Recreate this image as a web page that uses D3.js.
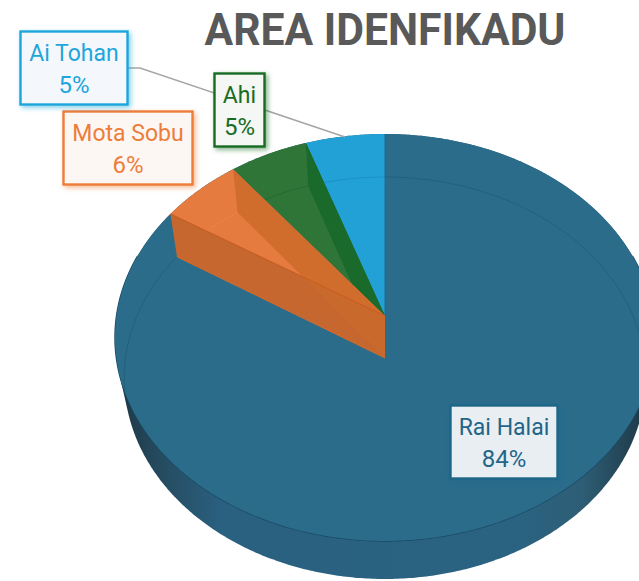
<!DOCTYPE html>
<html><head><meta charset="utf-8">
<script src="https://cdn.jsdelivr.net/npm/d3@7"></script>
<style>html,body{margin:0;padding:0;background:#fff}svg{display:block}</style>
</head><body><div id="c"></div>
<script>
const titleText = "AREA IDENFIKADU";
const categories = ["Rai Halai", "Mota Sobu", "Ahi", "Ai Tohan"];
const values = [84, 5.5, 5.25, 5.25];
const topColors = ["#2b6c8b", "#e67b40", "#2f7538", "#22a1d6"];
const wallColors = ["#2b6c8b", "#c4682f", "#196a2b", "#22a1d6"];
const rimColors = ["#24607f", "#ee8443", "#256a30", "#1b92c6"];
const borderColors = ["#1f6688", "#ed7d3a", "#196b24", "#1fa5dc"];
const boxFills = ["#e9eef3", "#fdf7f3", "#f4f7f4", "#f4f8fc"];
const textColors = ["#1f6688", "#ed7d3a", "#196b24", "#1fa5dc"];

const W = 639, H = 581;
const fontFamily = "Roboto, sans-serif";
const svg = d3.select("#c").append("svg").attr("width", W).attr("height", H);
const defs = svg.append("defs");

// projection: pie plane seen in perspective; z=0 top face, z=1 bottom face
const yCentre = d3.scaleLinear([0, 1], [316, 358]);
const xAmp = d3.scaleLinear([0, 1], [268.5, 259.5]);
const yAmp = d3.scaleLinear([0, 1], [201.2, 199]);
const persp = d3.scaleLinear([0, 1], [0.1056, 0.0995]);
const cx = 385;
function project(theta, z, r = 1) {
  const u = Math.sin(theta) * r, v = -Math.cos(theta) * r;
  const w = 1 - persp(z) * v;
  return [cx + xAmp(z) * u / w, yCentre(z) + yAmp(z) * v / w];
}
const line = d3.line();
const arcPts = (a, b, z) => {
  const n = Math.max(2, Math.ceil(Math.abs(b - a) / 0.01));
  return d3.range(n + 1).map(i => project(a + (b - a) * i / n, z));
};
const full = 2 * Math.PI;
const pie = d3.pie().sort(null).value(d => d)(values);

// gradient on the outside wall
const grad = defs.append("linearGradient").attr("id", "side")
  .attr("gradientUnits", "userSpaceOnUse").attr("x1", 115).attr("x2", 650).attr("y1", 0).attr("y2", 0);
[[0, "#1d3644"], [0.08, "#254a5e"], [0.2, "#2a6080"], [0.75, "#2a6381"], [0.87, "#2e5e76"], [1, "#1d3643"]]
  .forEach(([o, c]) => grad.append("stop").attr("offset", o).attr("stop-color", c));

defs.append("clipPath").attr("id", "topClip").append("path")
  .attr("d", line(arcPts(0, full, 0)) + "Z");

borderColors.forEach((c, i) => {
  defs.append("filter").attr("id", "sh" + i)
    .attr("x", "-20%").attr("y", "-20%").attr("width", "150%").attr("height", "150%")
    .append("feDropShadow").attr("dx", 2).attr("dy", 2).attr("stdDeviation", 2.5)
    .attr("flood-color", c).attr("flood-opacity", 0.55);
});

// outside wall silhouette
const hull = d3.polygonHull(arcPts(0, full, 0).concat(arcPts(0, full, 1)));
svg.append("path").attr("d", line(hull) + "Z").attr("fill", "url(#side)");

// rim of the top face in front
svg.append("path").attr("d", line(arcPts(Math.PI * 0.4, Math.PI * 1.6, 0)))
  .attr("fill", "none").attr("stroke", "#1a4a63").attr("stroke-width", 1.4);

const sliceD = p => line([[cx, yCentre(0)], ...arcPts(p.startAngle, p.endAngle, 0)]) + "Z";
const wallD = (angle) => line([project(angle, 0), [cx, yCentre(0)], [cx, yCentre(1)], project(angle, 1)]) + "Z";

svg.append("path").attr("d", sliceD(pie[0])).attr("fill", topColors[0]);
svg.append("path").attr("d", sliceD(pie[3])).attr("fill", topColors[3]);
svg.append("path").attr("d", sliceD(pie[2])).attr("fill", topColors[2]);

// far rim seen through the faces
pie.forEach((p, i) => {
  if (i === 1) return;
  svg.append("path").attr("d", line(arcPts(p.startAngle, p.endAngle, 1)))
    .attr("fill", "none").attr("stroke", rimColors[i]).attr("stroke-width", 1)
    .attr("clip-path", "url(#topClip)");
});
svg.append("path").attr("d", wallD(pie[2].endAngle)).attr("fill", wallColors[2])
  .attr("clip-path", "url(#topClip)");
svg.append("path").attr("d", line([project(0, 0), [cx, yCentre(0)]]))
  .attr("stroke", "#1f6a8f").attr("stroke-width", 1).attr("fill", "none");

// orange slice
defs.append("clipPath").attr("id", "frontWallClip").append("path").attr("d", wallD(pie[1].startAngle));
svg.append("path").attr("d", sliceD(pie[1])).attr("fill", topColors[1]);
svg.append("path").attr("d", wallD(pie[1].endAngle)).attr("fill", "#d06c2c");
svg.append("path").attr("d", line(arcPts(pie[1].startAngle, pie[1].endAngle, 1)))
  .attr("fill", "none").attr("stroke", rimColors[1]).attr("stroke-width", 1);
svg.append("path").attr("d", wallD(pie[1].startAngle)).attr("fill", "#c5672f");
svg.append("path").attr("d", wallD(pie[1].endAngle)).attr("fill", "#c9692b")
  .attr("clip-path", "url(#frontWallClip)");
svg.append("path").attr("d", line([[cx, yCentre(0)], project(pie[1].startAngle, 0)]))
  .attr("stroke", "#c85f24").attr("stroke-width", 1.2);
svg.append("path").attr("d", line([[cx, yCentre(1)], project(pie[1].startAngle, 1)]))
  .attr("stroke", "#d9692a").attr("stroke-width", 1);

// leader
const leaderPts = [[128, 68], [140, 68], [345, 137]];
svg.append("path").attr("d", line(leaderPts)).attr("fill", "none")
  .attr("stroke", "#a6a6a6").attr("stroke-width", 1.5);

// labels
const labelBoxes = [
  {x: 450.5, y: 405.5, w: 107, h: 73},
  {x: 63.5, y: 111.5, w: 129, h: 73},
  {x: 214.5, y: 73.5, w: 50, h: 73},
  {x: 20.5, y: 31.5, w: 107, h: 73}
];
const fmt = d3.format(".0f");
categories.forEach((name, i) => {
  const b = labelBoxes[i];
  const g = svg.append("g");
  g.append("rect").attr("x", b.x).attr("y", b.y).attr("width", b.w).attr("height", b.h)
    .attr("fill", boxFills[i]).attr("stroke", borderColors[i]).attr("stroke-width", 2.4)
    .attr("filter", `url(#sh${i})`);
  const t = g.append("text").attr("text-anchor", "middle").attr("font-family", fontFamily)
    .attr("font-size", 23).attr("fill", textColors[i]);
  t.append("tspan").attr("x", b.x + b.w / 2).attr("y", b.y + 29.5).text(name);
  t.append("tspan").attr("x", b.x + b.w / 2).attr("y", b.y + 61.5).attr("font-size", 24).text(fmt(values[i]) + "%");
});

svg.append("text").attr("x", 385).attr("y", 45).attr("text-anchor", "middle")
  .attr("font-family", fontFamily).attr("font-weight", 700).attr("font-size", 44)
  .attr("fill", "#595959").attr("textLength", 361).attr("lengthAdjust", "spacingAndGlyphs").text(titleText);
</script></body></html>
